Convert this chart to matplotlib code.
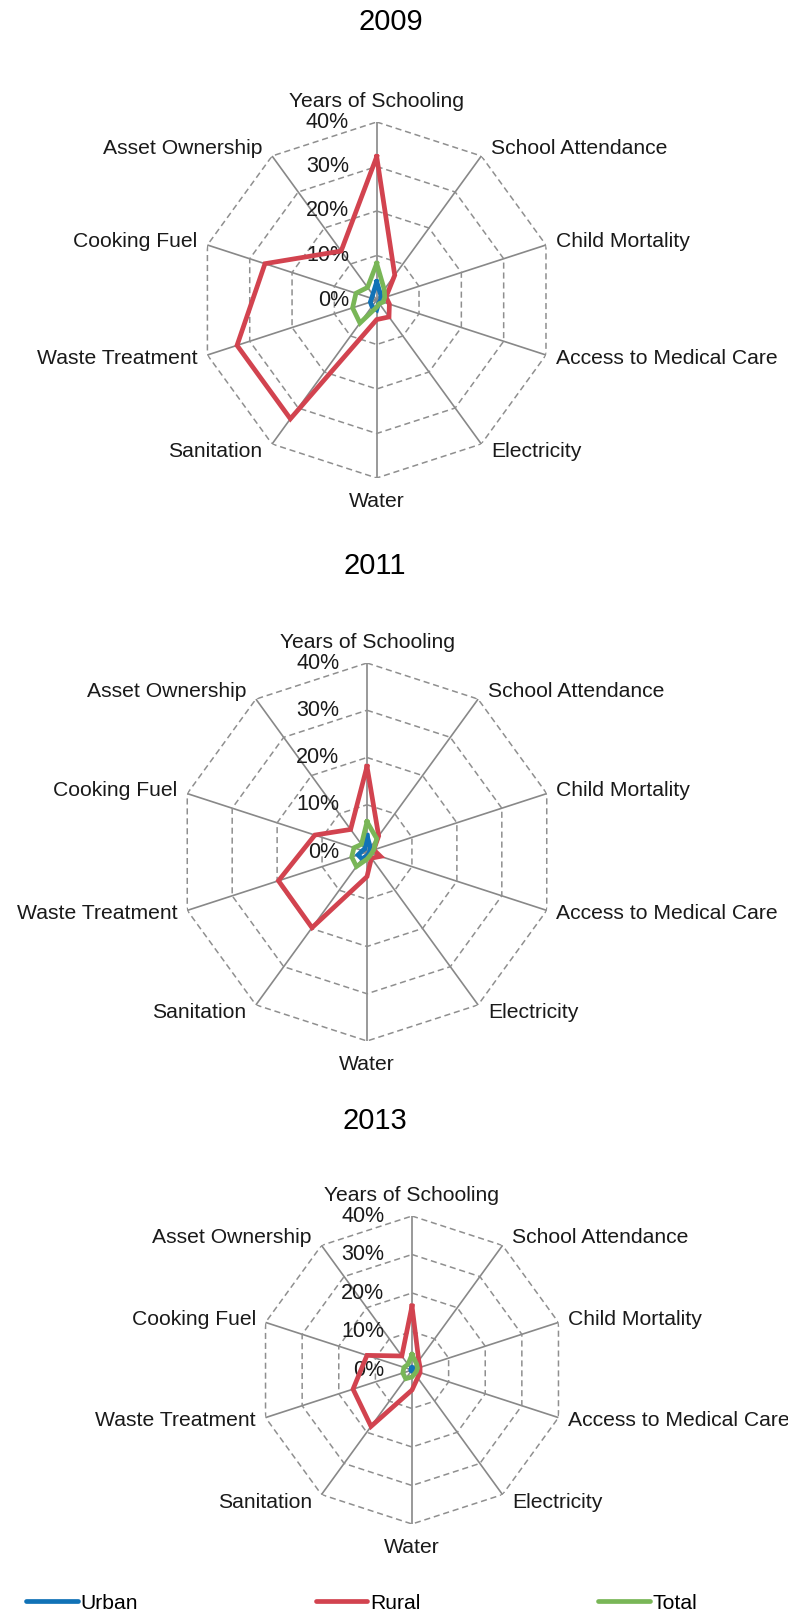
import numpy as np
import matplotlib.pyplot as plt
from matplotlib.lines import Line2D

plt.rcParams['font.family'] = ['Liberation Sans', 'DejaVu Sans']

# data (share of population deprived, %)
categories = ['Years of Schooling', 'School Attendance', 'Child Mortality',
              'Access to Medical Care', 'Electricity', 'Water', 'Sanitation',
              'Waste Treatment', 'Cooking Fuel', 'Asset Ownership']
years = ['2009', '2011', '2013']
series_names = ['Urban', 'Rural', 'Total']

urban_2009 = [4.1, 1.5, 1.0, 0.8, 0.8, 2.2, 1.8, 1.5, 1.2, 1.5]
rural_2009 = [32.2, 6.9, 2.2, 3.0, 4.7, 4.4, 33.0, 33.0, 26.4, 13.6]
total_2009 = [8.2, 2.9, 1.9, 1.5, 1.0, 1.6, 6.4, 5.7, 4.9, 3.5]

urban_2011 = [3.5, 1.2, 0.6, 0.5, 0.5, 0.8, 1.8, 2.0, 1.0, 0.8]
rural_2011 = [18.1, 4.2, 1.5, 3.0, 1.6, 5.2, 19.8, 19.7, 11.6, 5.9]
total_2011 = [6.4, 3.5, 1.5, 1.0, 1.0, 1.5, 3.8, 3.4, 2.9, 2.0]

urban_2013 = [0.6, 0.3, 0.3, 0.3, 0.3, 0.3, 0.3, 0.3, 0.3, 0.3]
rural_2013 = [16.6, 3.0, 2.2, 2.2, 2.5, 5.2, 18.1, 16.1, 12.3, 4.5]
total_2013 = [4.0, 2.0, 1.5, 1.2, 1.2, 1.8, 2.8, 2.5, 2.2, 1.8]

rings = [0, 10, 20, 30, 40]
ring_labels = ['0%', '10%', '20%', '30%', '40%']

data = {
    '2009': [urban_2009, rural_2009, total_2009],
    '2011': [urban_2011, rural_2011, total_2011],
    '2013': [urban_2013, rural_2013, total_2013],
}
colors = ['#1172b6', '#d2434f', '#79b657']

W, H = 788, 1619
fig = plt.figure(figsize=(W / 100, H / 100), dpi=100)

# centre x, centre y, radius, title x, title y  (pixels)
layout = [(376.7, 300, 178, 391, 22),
          (367, 852, 189, 375, 566),
          (412, 1370, 154, 375, 1121)]

theta = np.linspace(0, 2 * np.pi, len(categories), endpoint=False)
theta_closed = np.append(theta, theta[0])

for year, (cx, cy, R, tx, ty) in zip(years, layout):
    ax = fig.add_axes([(cx - R) / W, 1 - (cy + R) / H, 2 * R / W, 2 * R / H],
                      projection='polar')
    ax.set_theta_zero_location('N')
    ax.set_theta_direction(-1)
    ax.set_ylim(0, rings[-1])
    ax.axis('off')

    # spokes and dashed polygon rings
    for t in theta:
        ax.plot([t, t], [0, rings[-1]], color='#888888', lw=1.2, zorder=1)
    for r in rings[1:]:
        ax.plot(theta_closed, [r] * len(theta_closed), color='#8f8f8f', lw=1.1,
                ls=(0, (4, 2.5)), zorder=1)

    for r, lab in zip(rings, ring_labels):
        ax.annotate(lab, (0, r), xytext=(-20, 0), textcoords='offset points',
                    ha='right', va='center', fontsize=15.5, color='#1a1a1a')

    for t, name in zip(theta, categories):
        s, c = np.sin(t), np.cos(t)
        if abs(s) < 0.01:
            ha = 'center'
            va = 'baseline' if c > 0 else 'top'
            off = (0, 11 if c > 0 else -10)
        else:
            ha = 'left' if s > 0 else 'right'
            va = 'center'
            off = (7 * np.sign(s), 7 * c)
        ax.annotate(name, (t, rings[-1]), xytext=off, textcoords='offset points',
                    ha=ha, va=va, fontsize=15.2, color='#1a1a1a',
                    annotation_clip=False)

    for vals, col in zip(data[year], colors):
        ax.plot(theta_closed, vals + [vals[0]], color=col, lw=3.4,
                solid_joinstyle='miter', clip_on=False, zorder=3)

    fig.text(tx / W, 1 - ty / H, year, ha='center', va='center', fontsize=21)

handles = [Line2D([], [], color=c, lw=3.4, solid_capstyle='round') for c in colors]
fig.legend(handles, series_names, loc='center', ncol=3, mode='expand',
           bbox_to_anchor=(26 / W, 1 - 1603 / H - 0.01, (697 - 26) / W, 0.02),
           frameon=False, fontsize=15.2, handlelength=2.45, handletextpad=0.12,
           borderpad=0, borderaxespad=0)

fig.savefig('out.png', dpi=100)
